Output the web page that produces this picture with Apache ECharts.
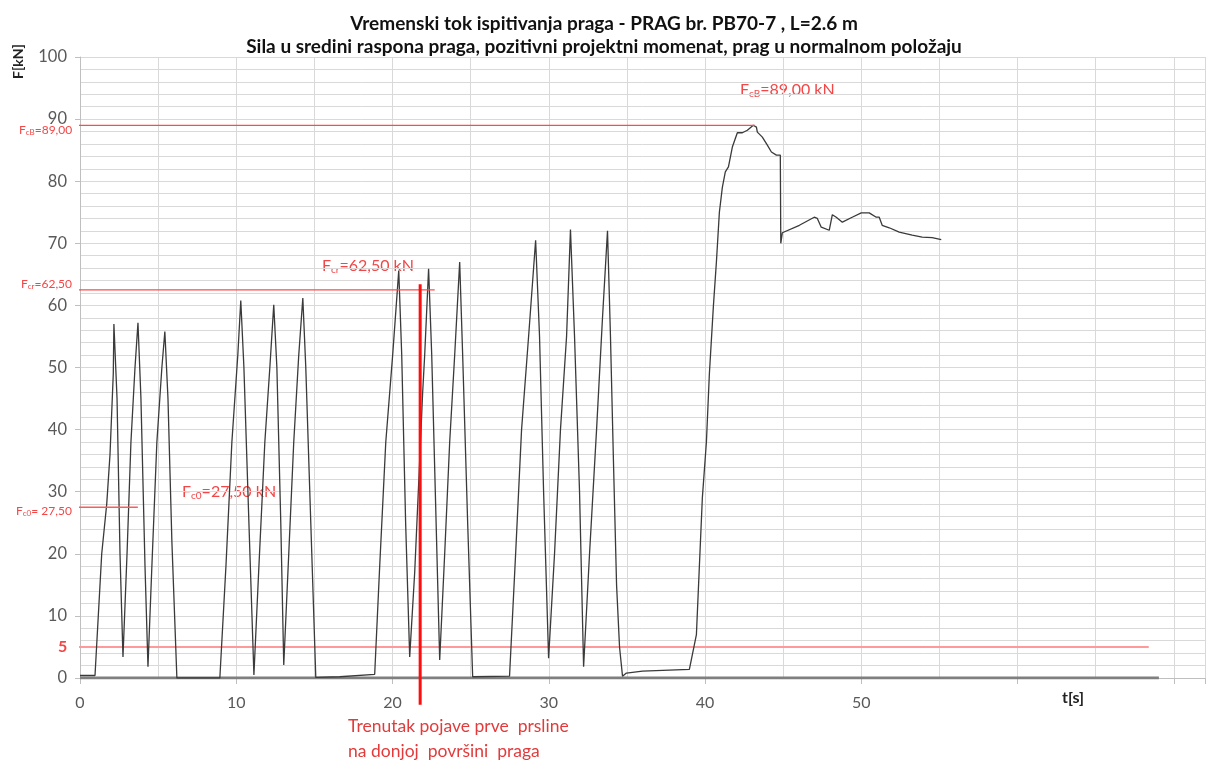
<!DOCTYPE html>
<html>
<head>
<meta charset="utf-8">
<script src="https://cdn.jsdelivr.net/npm/echarts@6/dist/echarts.min.js"></script>
<style>
  html, body { margin: 0; padding: 0; background: #fff; }
  #chart { width: 1208px; height: 760px; }
</style>
</head>
<body>
<div id="chart"></div>
<script>
// vrijeme [s] i sila [kN], ocitano sa dijagrama
var tData = [0, 0.96, 1.39, 1.71, 1.92, 2.13, 2.17, 2.37, 2.56, 2.75, 3.01, 3.26, 3.52, 3.71, 3.90, 4.16, 4.35,
  4.60, 4.92, 5.24, 5.43, 5.63, 5.88, 6.20, 8.95, 9.34, 9.72, 10.10, 10.29, 10.49, 10.81, 11.13,
  11.45, 11.83, 12.15, 12.40, 12.60, 12.85, 13.04, 13.36, 13.68, 14.00, 14.26, 14.45, 14.77, 15.09,
  16.62, 18.86, 19.18, 19.57, 20.01, 20.40, 20.59, 20.84, 21.10, 21.42, 21.74, 21.93, 22.06, 22.31,
  22.51, 22.76, 23.02, 23.34, 23.66, 23.98, 24.30, 24.49, 24.81, 25.13, 27.49, 27.88, 28.26, 28.71,
  29.16, 29.41, 29.67, 29.99, 30.37, 30.75, 31.14, 31.39, 31.65, 31.97, 32.23, 32.61, 33.06, 33.44,
  33.76, 33.95, 34.14, 34.34, 34.53, 34.72, 34.97, 36.00, 39.00, 39.45, 39.64, 39.83, 40.09, 40.28,
  40.54, 40.73, 40.92, 41.11, 41.30, 41.50, 41.75, 42.07, 42.39, 42.71, 43.09, 43.29, 43.35, 43.67,
  43.99, 44.25, 44.57, 44.82, 44.85, 44.95, 46.04, 46.99, 47.19, 47.44, 47.95, 48.15, 48.40, 48.79,
  49.42, 50.00, 50.51, 50.96, 51.15, 51.34, 51.79, 52.43, 53.26, 53.90, 54.54, 55.12];
var fData = [0.4, 0.4, 20, 28, 36, 49, 57, 45, 20, 3.4, 20, 38, 50, 57.2, 45, 18, 1.8,
  18, 38, 50, 55.8, 45, 22, 0, 0, 18, 38, 52, 60.8, 50, 25, 0.5,
  18, 38, 50, 60.1, 50, 25, 2.1, 20, 38, 52, 61.2, 50, 25, 0.1,
  0.2, 0.6, 18, 38, 52, 65.6, 52, 25, 3.4, 17, 35, 46, 52, 65.9,
  52, 28, 2.9, 20, 38, 52, 67.0, 52, 25, 0.2, 0.3, 20, 40, 55,
  70.5, 55, 30, 3.2, 20, 40, 55, 72.2, 55, 30, 1.8, 20, 40, 58,
  72.0, 55, 35, 15, 5, 0.3, 0.8, 1.1, 1.4, 7, 18, 29, 38, 49,
  60, 67, 75, 79, 81.5, 82.3, 85.5, 87.8, 87.8, 88.2, 89.0, 88.7, 87.9, 87.1,
  85.8, 84.7, 84.2, 84.2, 70.0, 71.7, 72.9, 74.2, 74.0, 72.6, 72.1, 74.6, 74.2, 73.4,
  74.2, 74.9, 74.9, 74.2, 74.2, 72.9, 72.5, 71.8, 71.3, 71.0, 70.9, 70.6];

// druga mjerna linija (nula)
var zeroT = [0, 69.05];
var zeroF = [0, 0];

// karakteristicne sile
var fcB = 89.0, fcBEnd = 43.2;
var fcr = 62.5, fcrEnd = 22.7;
var fc0 = 27.5, fc0End = 3.7;
var fLimit = 5, fLimitEnd = 68.4;
var lineStart = -0.25;
// trenutak pojave prve prsline
var crackT = 21.77;
var crackF = [63.4, -4.3];

var yTicks = [0, 10, 20, 30, 40, 50, 60, 70, 80, 90, 100];
var xTickLabels = [0, 10, 20, 30, 40, 50];

function zip(a, b) { return a.map(function (v, i) { return [v, b[i]]; }); }

var chart = echarts.init(document.getElementById('chart'));
var FONT = 'Lato, "Open Sans", sans-serif';
var RED = '#f34646';

var sub = function (main, s, rest, size) {
  return {
    text: '{a|' + main + '}{s|' + s + '}{a|' + rest + '}',
    rich: {
      a: { fontSize: size, fill: RED, fontFamily: FONT },
      s: { fontSize: Math.round(size * 0.65), fill: RED, fontFamily: FONT, padding: [size * 0.45, 0, 0, 0] }
    }
  };
};

var option = {
  animation: false,
  backgroundColor: '#fff',
  title: {
    text: 'Vremenski tok ispitivanja praga - PRAG br. PB70-7 , L=2.6 m\nSila u sredini raspona praga, pozitivni projektni momenat, prag u normalnom položaju',
    left: 'center',
    top: 7,
    textStyle: { fontFamily: FONT, fontSize: 19, fontWeight: 'bold', color: '#111', lineHeight: 23 }
  },
  grid: { left: 80, right: 2, top: 57, bottom: 82 },
  xAxis: [{
    type: 'value', min: 0, max: 72, interval: 5,
    axisLine: { show: true, lineStyle: { color: '#bfbfbf' } },
    axisTick: { show: false },
    splitLine: { show: true, lineStyle: { color: '#d9d9d9' } },
    axisLabel: {
      margin: 17, color: '#595959', fontSize: 16, fontFamily: FONT,
      formatter: function (v) { return xTickLabels.indexOf(v) >= 0 ? String(v) : ''; }
    }
  }, {
    type: 'value', min: 0, max: 72, interval: 10, position: 'bottom',
    axisLine: { show: false },
    axisTick: { show: true, length: 6, lineStyle: { color: '#bfbfbf' } },
    splitLine: { show: false },
    axisLabel: { show: false }
  }],
  yAxis: {
    type: 'value', min: 0, max: 100, interval: 10,
    axisLine: { show: true, lineStyle: { color: '#bfbfbf' } },
    axisTick: { show: true, length: 5, lineStyle: { color: '#bfbfbf' } },
    splitLine: { show: true, lineStyle: { color: '#d9d9d9' } },
    minorTick: { show: false, splitNumber: 5 },
    minorSplitLine: { show: true, lineStyle: { color: '#d9d9d9' } },
    axisLabel: {
      margin: 13, color: '#595959', fontSize: 16.5, fontFamily: FONT,
      formatter: function (v) { return yTicks.indexOf(v) >= 0 ? String(v) : ''; }
    }
  },
  series: [
    {
      type: 'line', data: zip(zeroT, zeroF), symbol: 'none', z: 3,
      lineStyle: { color: '#7f7f7f', width: 3 }
    },
    {
      type: 'line', data: zip(tData, fData), symbol: 'none', z: 4,
      lineStyle: { color: '#3a3a3a', width: 1.3 }
    },
    {
      type: 'line', data: [[lineStart, fLimit], [fLimitEnd, fLimit]], symbol: 'none', clip: false, z: 2,
      lineStyle: { color: '#ff9a9a', width: 2 }
    },
    {
      type: 'line', data: [[lineStart, fcB], [fcBEnd, fcB]], symbol: 'none', clip: false, z: 5,
      lineStyle: { color: '#ff4a4a', width: 1.2 }
    },
    {
      type: 'line', data: [[lineStart, fcr], [fcrEnd, fcr]], symbol: 'none', clip: false, z: 5,
      lineStyle: { color: '#ff4a4a', width: 1.2 }
    },
    {
      type: 'line', data: [[lineStart, fc0], [fc0End, fc0]], symbol: 'none', clip: false, z: 5,
      lineStyle: { color: '#ff5a5a', width: 1.5 }
    },
    {
      type: 'line', data: [[crackT, crackF[0]], [crackT, crackF[1]]], symbol: 'none', clip: false, z: 6,
      lineStyle: { color: '#ff0d0d', width: 3 }
    }
  ],
  graphic: [
    { type: 'text', left: 11, top: 44, rotation: Math.PI / 2, style: { text: 'F[kN]', fontFamily: FONT, fontSize: 14, fontWeight: 'bold', fill: '#222' } },
    { type: 'text', left: 1062, top: 690, style: { text: 't[s]', fontFamily: FONT, fontSize: 16, fontWeight: 'bold', fill: '#222' } },
    { type: 'text', left: 58, top: 639, style: { text: '5', fontFamily: FONT, fontSize: 16, fontWeight: 'bold', fill: RED } },
    { type: 'text', left: 740, top: 82, style: sub('F', 'cB', '=89,00 kN', 16) },
    { type: 'text', left: 322, top: 258, style: sub('F', 'cr', '=62,50 kN', 16) },
    { type: 'text', left: 182, top: 484, style: sub('F', 'c0', '=27,50 kN', 16) },
    { type: 'text', left: 19, top: 124, style: sub('F', 'cB', '=89,00', 12) },
    { type: 'text', left: 21, top: 278, style: sub('F', 'cr', '=62,50', 12) },
    { type: 'text', left: 16, top: 505, style: sub('F', 'c0', '= 27,50', 12) },
    { type: 'text', left: 348, top: 714, style: { text: 'Trenutak pojave prve  prsline\nna donjoj  površini  praga', fontFamily: FONT, fontSize: 17.5, lineHeight: 25, fill: '#e23b3b' } }
  ]
};

chart.setOption(option);
</script>
</body>
</html>
